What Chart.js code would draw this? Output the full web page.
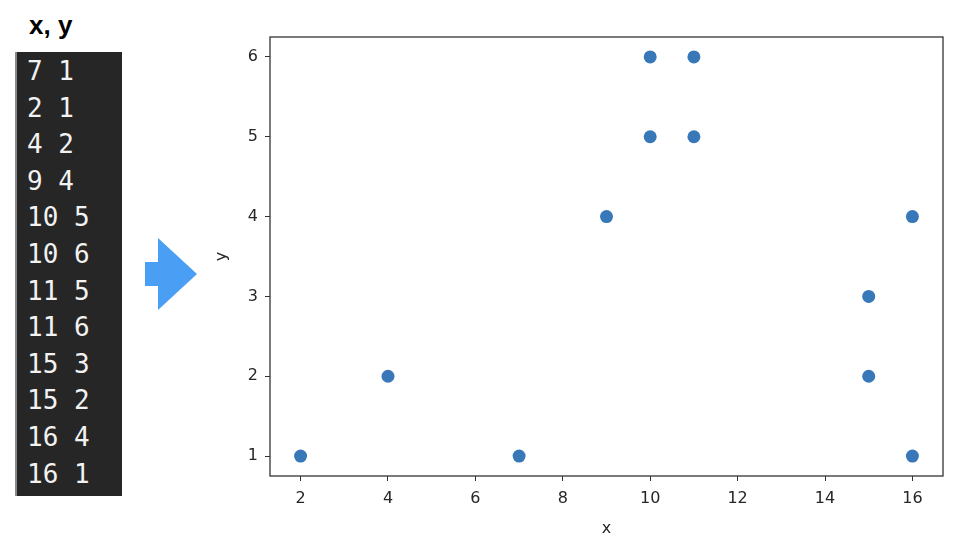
<!DOCTYPE html>
<html>
<head>
<meta charset="utf-8">
<script src="https://cdn.jsdelivr.net/npm/chart.js@4"></script>
<style>
  html, body { margin: 0; padding: 0; background: #fff; }
  #page { position: relative; width: 960px; height: 553px; overflow: hidden; }
  #head { position: absolute; left: 29px; top: 10px; font: bold 26px "Liberation Sans", Arial, sans-serif; color: #000; }
  #list { position: absolute; left: 15px; top: 52px; width: 107px; height: 444px; background: #262626;
          border-left: 2px solid #8a8a8a; box-sizing: border-box; padding: 19px 0 0 10px; }
  #list div { font: 26px "DejaVu Sans Mono", monospace; color: #f2f2f2; height: 36.6px; line-height: 0; white-space: pre; }
  #arrow { position: absolute; left: 0; top: 0; }
  #chart { position: absolute; left: 200px; top: 0; }
</style>
</head>
<body>
<div id="page">
  <div id="head">x, y</div>
  <div id="list"></div>
  <svg id="arrow" width="220" height="553">
    <polygon points="145,262 158,262 158,238 197,274 158,310 158,286 145,286" fill="#4a9ff5"/>
  </svg>
  <canvas id="chart" width="760" height="553"></canvas>
</div>
<script>
const xs = [7, 2, 4, 9, 10, 10, 11, 11, 15, 15, 16, 16];
const ys = [1, 1, 2, 4, 5, 6, 5, 6, 3, 2, 4, 1];
const xTicks = [2, 4, 6, 8, 10, 12, 14, 16];
const yTicks = [1, 2, 3, 4, 5, 6];

// the x y listing on the left
const list = document.getElementById("list");
xs.forEach((x, i) => {
  const row = document.createElement("div");
  row.textContent = x + " " + ys[i];
  list.appendChild(row);
});

const frame = {
  id: "frame",
  afterDatasetsDraw(chart) {
    const a = chart.chartArea;
    const ctx = chart.ctx;
    ctx.save();
    ctx.strokeStyle = "#333";
    ctx.lineWidth = 1.3;
    ctx.strokeRect(a.left, a.top, a.right - a.left, a.bottom - a.top);
    ctx.restore();
  }
};

const tickFont = { family: "DejaVu Sans", size: 16 };

new Chart(document.getElementById("chart").getContext("2d"), {
  type: "scatter",
  data: {
    datasets: [{
      data: xs.map((x, i) => ({ x: x, y: ys[i] })),
      backgroundColor: "#3878b8",
      borderWidth: 0,
      pointRadius: 6.5,
      pointHoverRadius: 6.5
    }]
  },
  options: {
    responsive: false,
    animation: false,
    layout: { padding: { top: 37, right: 17, left: 0, bottom: 0 } },
    plugins: { legend: { display: false }, tooltip: { enabled: false } },
    scales: {
      x: {
        type: "linear",
        min: 1.3,
        max: 16.7,
        afterBuildTicks: s => { s.ticks = xTicks.map(v => ({ value: v })); },
        afterFit: s => { s.height = 77; },
        grid: { drawOnChartArea: false, drawTicks: true, tickLength: 5, color: "#333" },
        border: { display: false },
        ticks: { font: tickFont, color: "#262626", padding: 8 },
        title: { display: true, text: "x", font: tickFont, color: "#262626", padding: { top: 0, bottom: 15 } }
      },
      y: {
        type: "linear",
        min: 0.75,
        max: 6.25,
        afterBuildTicks: s => { s.ticks = yTicks.map(v => ({ value: v })); },
        afterFit: s => { s.width = 70; },
        grid: { drawOnChartArea: false, drawTicks: true, tickLength: 5, color: "#333" },
        border: { display: false },
        ticks: { font: tickFont, color: "#262626", padding: 7 },
        title: { display: true, text: "y", font: tickFont, color: "#262626", padding: { top: 12, bottom: 0 } }
      }
    }
  },
  plugins: [frame]
});
</script>
</body>
</html>
